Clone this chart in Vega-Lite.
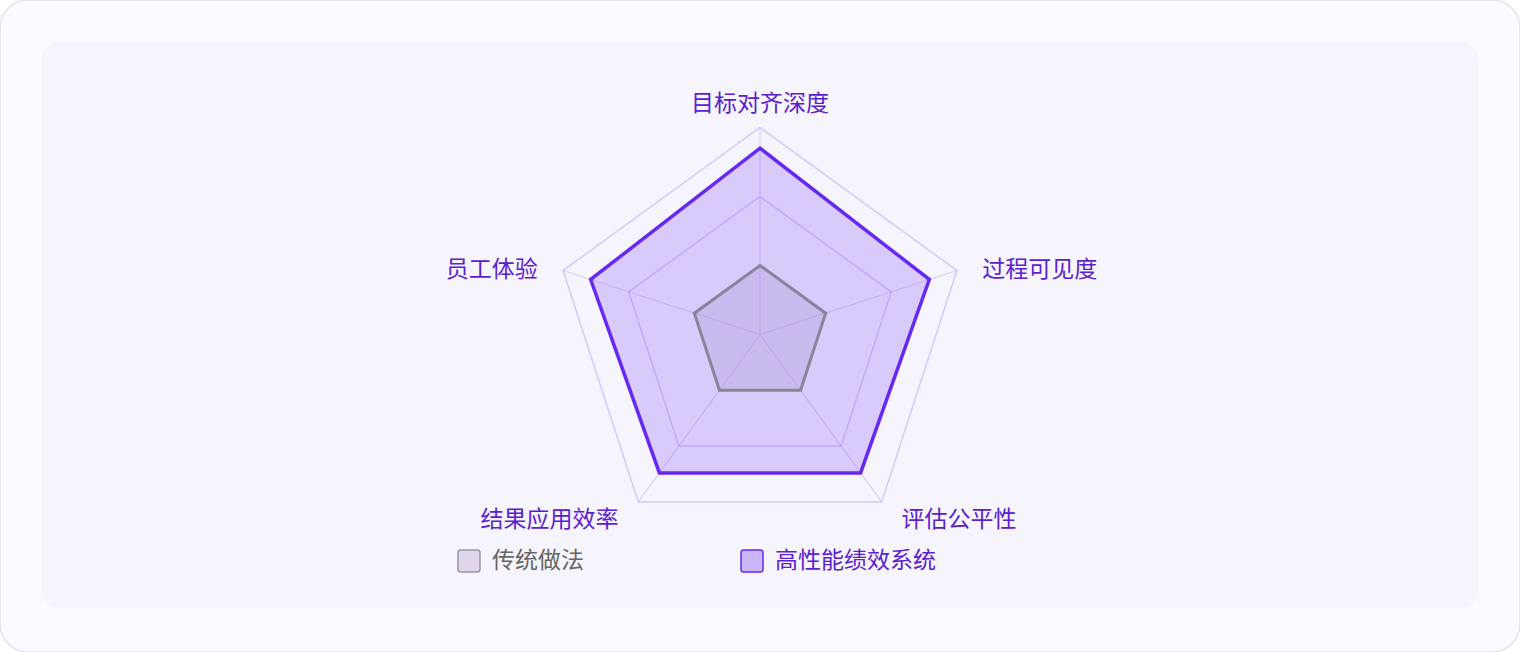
{
  "$schema": "https://vega.github.io/schema/vega-lite/v6.json",
  "width": 1520,
  "height": 652,
  "autosize": {"type": "fit", "contains": "padding"},
  "padding": 0,
  "background": "#ffffff",
  "config": {
    "view": {"fill": "#fbfaff", "stroke": "#e4e0f3", "strokeWidth": 1.5, "cornerRadius": 28},
    "font": "Noto Sans CJK SC"
  },
  "datasets": {
    "axes": [
      {"dim": "目标对齐深度", "idx": 0},
      {"dim": "过程可见度", "idx": 1},
      {"dim": "评估公平性", "idx": 2},
      {"dim": "结果应用效率", "idx": 3},
      {"dim": "员工体验", "idx": 4}
    ],
    "grid": [
      {"level": 50, "dim": "目标对齐深度"}, {"level": 50, "dim": "过程可见度"}, {"level": 50, "dim": "评估公平性"}, {"level": 50, "dim": "结果应用效率"}, {"level": 50, "dim": "员工体验"},
      {"level": 100, "dim": "目标对齐深度"}, {"level": 100, "dim": "过程可见度"}, {"level": 100, "dim": "评估公平性"}, {"level": 100, "dim": "结果应用效率"}, {"level": 100, "dim": "员工体验"},
      {"level": 150, "dim": "目标对齐深度"}, {"level": 150, "dim": "过程可见度"}, {"level": 150, "dim": "评估公平性"}, {"level": 150, "dim": "结果应用效率"}, {"level": 150, "dim": "员工体验"}
    ],
    "scores": [
      {"series": "传统做法", "dim": "目标对齐深度", "value": 50},
      {"series": "传统做法", "dim": "过程可见度", "value": 50},
      {"series": "传统做法", "dim": "评估公平性", "value": 50},
      {"series": "传统做法", "dim": "结果应用效率", "value": 50},
      {"series": "传统做法", "dim": "员工体验", "value": 50},
      {"series": "高性能绩效系统", "dim": "目标对齐深度", "value": 135},
      {"series": "高性能绩效系统", "dim": "过程可见度", "value": 129},
      {"series": "高性能绩效系统", "dim": "评估公平性", "value": 124},
      {"series": "高性能绩效系统", "dim": "结果应用效率", "value": 124},
      {"series": "高性能绩效系统", "dim": "员工体验", "value": 129}
    ]
  },
  "layer": [
    {
      "data": {"name": "axes"},
      "transform": [{"filter": "datum.idx == 0"}],
      "mark": {"type": "rect", "color": "#f6f4fd", "cornerRadius": 16},
      "encoding": {
        "x": {"datum": -520.3, "type": "quantitative", "axis": null, "scale": {"domain": [-550.7, 550.7], "nice": false, "zero": false}},
        "x2": {"datum": 520.3},
        "y": {"datum": 212, "type": "quantitative", "axis": null, "scale": {"domain": [-230.1, 242.4], "nice": false, "zero": false}},
        "y2": {"datum": -198.2}
      }
    },
    {
      "data": {"name": "grid"},
      "transform": [
        {"lookup": "dim", "from": {"data": {"name": "axes"}, "key": "dim", "fields": ["idx"]}},
        {"calculate": "datum.idx * 2 * PI / 5", "as": "ang"},
        {"calculate": "datum.level * sin(datum.ang)", "as": "x"},
        {"calculate": "datum.level * cos(datum.ang)", "as": "y"}
      ],
      "mark": {"type": "line", "interpolate": "linear-closed", "stroke": "#a78bfa", "strokeOpacity": 0.4, "strokeWidth": 1.5},
      "encoding": {
        "x": {"field": "x", "type": "quantitative", "axis": null},
        "y": {"field": "y", "type": "quantitative", "axis": null},
        "detail": {"field": "level"},
        "order": {"field": "idx"}
      }
    },
    {
      "data": {"name": "grid"},
      "transform": [
        {"filter": "datum.level == 150"},
        {"lookup": "dim", "from": {"data": {"name": "axes"}, "key": "dim", "fields": ["idx"]}},
        {"calculate": "datum.idx * 2 * PI / 5", "as": "ang"},
        {"calculate": "datum.level * sin(datum.ang)", "as": "x"},
        {"calculate": "datum.level * cos(datum.ang)", "as": "y"}
      ],
      "mark": {"type": "rule", "stroke": "#a78bfa", "strokeOpacity": 0.35, "strokeWidth": 1.2},
      "encoding": {
        "x": {"field": "x", "type": "quantitative", "axis": null},
        "y": {"field": "y", "type": "quantitative", "axis": null},
        "x2": {"datum": 0},
        "y2": {"datum": 0}
      }
    },
    {
      "data": {"name": "scores"},
      "transform": [
        {"filter": "datum.series == '高性能绩效系统'"},
        {"lookup": "dim", "from": {"data": {"name": "axes"}, "key": "dim", "fields": ["idx"]}},
        {"calculate": "datum.idx * 2 * PI / 5", "as": "ang"},
        {"calculate": "datum.value * sin(datum.ang)", "as": "x"},
        {"calculate": "datum.value * cos(datum.ang)", "as": "y"}
      ],
      "mark": {"type": "line", "interpolate": "linear-closed", "fill": "#8b5cf6", "fillOpacity": 0.28, "stroke": "#6728f2", "strokeWidth": 3.5, "strokeJoin": "miter"},
      "encoding": {
        "x": {"field": "x", "type": "quantitative", "axis": null},
        "y": {"field": "y", "type": "quantitative", "axis": null},
        "order": {"field": "idx"}
      }
    },
    {
      "data": {"name": "scores"},
      "transform": [
        {"filter": "datum.series == '传统做法'"},
        {"lookup": "dim", "from": {"data": {"name": "axes"}, "key": "dim", "fields": ["idx"]}},
        {"calculate": "datum.idx * 2 * PI / 5", "as": "ang"},
        {"calculate": "datum.value * sin(datum.ang)", "as": "x"},
        {"calculate": "datum.value * cos(datum.ang)", "as": "y"}
      ],
      "mark": {"type": "line", "interpolate": "linear-closed", "fill": "#a892cf", "fillOpacity": 0.27, "stroke": "#8a8499", "strokeWidth": 3, "strokeJoin": "miter"},
      "encoding": {
        "x": {"field": "x", "type": "quantitative", "axis": null},
        "y": {"field": "y", "type": "quantitative", "axis": null},
        "order": {"field": "idx"}
      }
    },
    {
      "data": {"name": "scores"},
      "transform": [{"filter": "datum.value < 0"}],
      "mark": {"type": "line"},
      "encoding": {
        "x": {"field": "value", "type": "quantitative", "axis": null},
        "y": {"field": "value", "type": "quantitative", "axis": null},
        "fill": {"field": "series", "type": "nominal", "scale": {"domain": ["传统做法", "高性能绩效系统"], "range": ["#e1d7ec", "#c9b6fc"]}, "legend": {"orient": "none", "legendX": 457, "legendY": 549, "direction": "horizontal", "title": null, "symbolType": "M -0.75 -1 H 0.75 Q 1 -1 1 -0.75 V 0.75 Q 1 1 0.75 1 H -0.75 Q -1 1 -1 0.75 V -0.75 Q -1 -1 -0.75 -1 Z", "symbolSize": 484, "symbolStrokeWidth": 1.5, "symbolOpacity": 1, "labelFontSize": 23, "labelOffset": 11, "labelLimit": 400, "columnPadding": 154, "labelFont": "Noto Sans CJK SC", "labelColor": {"expr": "datum.label == '传统做法' ? '#666666' : '#5b21d0'"}}},
        "stroke": {"field": "series", "type": "nominal", "scale": {"domain": ["传统做法", "高性能绩效系统"], "range": ["#9b97a3", "#6728f2"]}, "legend": {"orient": "none", "legendX": 457, "legendY": 549, "direction": "horizontal", "title": null, "symbolType": "M -0.75 -1 H 0.75 Q 1 -1 1 -0.75 V 0.75 Q 1 1 0.75 1 H -0.75 Q -1 1 -1 0.75 V -0.75 Q -1 -1 -0.75 -1 Z", "symbolSize": 484, "symbolStrokeWidth": 1.5, "symbolOpacity": 1, "labelFontSize": 23, "labelOffset": 11, "labelLimit": 400, "columnPadding": 154, "labelFont": "Noto Sans CJK SC", "labelColor": {"expr": "datum.label == '传统做法' ? '#666666' : '#5b21d0'"}}}
      }
    },
    {
      "data": {"name": "axes"},
      "transform": [
        {"filter": "datum.idx == 0"},
        {"calculate": "datum.idx * 2 * PI / 5", "as": "ang"},
        {"calculate": "167 * sin(datum.ang)", "as": "x"},
        {"calculate": "167 * cos(datum.ang)", "as": "y"}
      ],
      "mark": {"type": "text", "align": "center", "baseline": "middle", "fontSize": 23, "color": "#5b21d0"},
      "encoding": {
        "x": {"field": "x", "type": "quantitative", "axis": null},
        "y": {"field": "y", "type": "quantitative", "axis": null},
        "text": {"field": "dim"}
      }
    },
    {
      "data": {"name": "axes"},
      "transform": [
        {"filter": "datum.idx == 1"},
        {"calculate": "datum.idx * 2 * PI / 5", "as": "ang"},
        {"calculate": "167 * sin(datum.ang)", "as": "x"},
        {"calculate": "167 * cos(datum.ang)", "as": "y"}
      ],
      "mark": {"type": "text", "align": "left", "baseline": "middle", "fontSize": 23, "color": "#5b21d0", "dx": 3, "dy": 7},
      "encoding": {
        "x": {"field": "x", "type": "quantitative", "axis": null},
        "y": {"field": "y", "type": "quantitative", "axis": null},
        "text": {"field": "dim"}
      }
    },
    {
      "data": {"name": "axes"},
      "transform": [
        {"filter": "datum.idx == 2"},
        {"calculate": "datum.idx * 2 * PI / 5", "as": "ang"},
        {"calculate": "167 * sin(datum.ang)", "as": "x"},
        {"calculate": "167 * cos(datum.ang)", "as": "y"}
      ],
      "mark": {"type": "text", "align": "left", "baseline": "middle", "fontSize": 23, "color": "#5b21d0", "dx": 6, "dy": -1},
      "encoding": {
        "x": {"field": "x", "type": "quantitative", "axis": null},
        "y": {"field": "y", "type": "quantitative", "axis": null},
        "text": {"field": "dim"}
      }
    },
    {
      "data": {"name": "axes"},
      "transform": [
        {"filter": "datum.idx == 3"},
        {"calculate": "datum.idx * 2 * PI / 5", "as": "ang"},
        {"calculate": "167 * sin(datum.ang)", "as": "x"},
        {"calculate": "167 * cos(datum.ang)", "as": "y"}
      ],
      "mark": {"type": "text", "align": "right", "baseline": "middle", "fontSize": 23, "color": "#5b21d0", "dx": -6, "dy": -1},
      "encoding": {
        "x": {"field": "x", "type": "quantitative", "axis": null},
        "y": {"field": "y", "type": "quantitative", "axis": null},
        "text": {"field": "dim"}
      }
    },
    {
      "data": {"name": "axes"},
      "transform": [
        {"filter": "datum.idx == 4"},
        {"calculate": "datum.idx * 2 * PI / 5", "as": "ang"},
        {"calculate": "167 * sin(datum.ang)", "as": "x"},
        {"calculate": "167 * cos(datum.ang)", "as": "y"}
      ],
      "mark": {"type": "text", "align": "right", "baseline": "middle", "fontSize": 23, "color": "#5b21d0", "dx": -3, "dy": 7},
      "encoding": {
        "x": {"field": "x", "type": "quantitative", "axis": null},
        "y": {"field": "y", "type": "quantitative", "axis": null},
        "text": {"field": "dim"}
      }
    }
  ]
}
